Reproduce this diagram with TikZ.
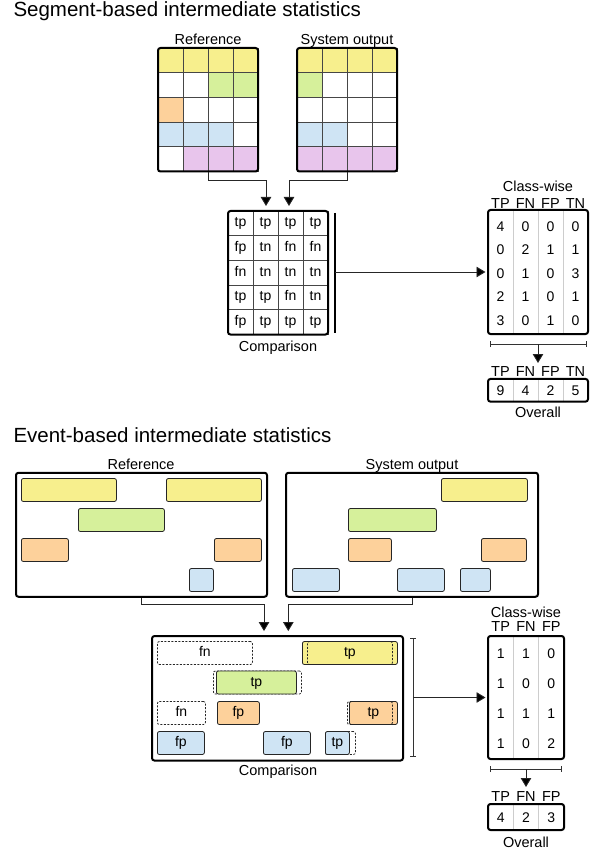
\documentclass[tikz,border=0pt]{standalone}
\usepackage{fontspec}
\setmainfont{Liberation Sans}
\usetikzlibrary{arrows.meta,positioning,calc}
\definecolor{evyellow}{RGB}{247,239,141}
\definecolor{evgreen}{RGB}{214,240,155}
\definecolor{evorange}{RGB}{253,209,155}
\definecolor{evblue}{RGB}{207,228,244}
\definecolor{evpurple}{RGB}{232,197,236}
\definecolor{gridline}{RGB}{70,70,70}
\definecolor{lightline}{RGB}{205,205,205}
\newcommand\titlefont{\fontsize{20.5}{24}\selectfont}
\newcommand\labfont{\fontsize{14.5}{17}\selectfont}
\newcommand\cellfont{\fontsize{14}{16}\selectfont}

\begin{document}
\begin{tikzpicture}[x=1pt,y=-1pt,
  title/.style={anchor=base west,inner sep=0pt,font=\titlefont},
  caption/.style={anchor=base,inner sep=0pt,font=\labfont},
  frame/.style={draw,line width=2pt,rounded corners=2.5pt,inner sep=0pt},
  cell/.style={draw=gridline,line width=0.7pt,minimum width=25pt,minimum height=24.7pt,inner sep=0pt,font=\cellfont,text height=10pt,text depth=3pt},
  num/.style={inner sep=0pt,font=\cellfont,text height=10pt,text depth=0pt},
  evt/.style={draw=black!85,line width=0.8pt,rounded corners=2pt,minimum height=23pt,inner sep=0pt,anchor=west,font=\cellfont,text height=10pt,text depth=3pt},
  miss/.style={evt,dash pattern=on 2pt off 1.5pt},
  link/.style={draw=black!85,line width=0.9pt,-{Triangle[width=10.5pt,length=9pt,fill=black]},shorten >=4pt},
  brace/.style={draw=black!80,line width=0.8pt,{Bar[width=6pt]}-{Bar[width=6pt]}}]
  \useasboundingbox (0,0) rectangle (606,850);

  % Segment-based
  \node[title] (segtitle) at (13.3,16.7) {Segment-based intermediate statistics};
  % Reference grid
  \foreach \r/\row in {0/{evyellow,evyellow,evyellow,evyellow},1/{white,white,evgreen,evgreen},2/{evorange,white,white,white},3/{evblue,evblue,evblue,white},4/{white,evpurple,evpurple,evpurple}}
    \foreach \c [count=\j from 0] in \row
      \node[cell,fill=\c] (sref-\r-\j) at (170.5+25*\j,60.35+24.7*\r) {};
  \node[frame,minimum width=100pt,minimum height=123.5pt] (sref) at (208,109.75) {};
  \node[caption] (sreflbl) at (208,44.3) {Reference};
  % System output grid
  \foreach \r/\row in {0/{evyellow,evyellow,evyellow,evyellow},1/{evgreen,white,white,white},2/{white,white,white,white},3/{evblue,evblue,white,white},4/{evpurple,evpurple,evpurple,evpurple}}
    \foreach \c [count=\j from 0] in \row
      \node[cell,fill=\c] (ssys-\r-\j) at (309.5+25*\j,60.35+24.7*\r) {};
  \node[frame,minimum width=100pt,minimum height=123.5pt] (ssys) at (347,109.75) {};
  \node[caption] (ssyslbl) at (347,44.3) {System output};
  % Comparison grid
  \foreach \r/\row in {0/{tp,tp,tp,tp},1/{fp,tn,fn,fn},2/{fn,tn,tn,tn},3/{tp,tp,fn,tn},4/{fp,tp,tp,tp}}
    \foreach \t [count=\j from 0] in \row
      \node[cell] (scmp-\r-\j) at (240.5+25*\j,223.35+24.7*\r) {\t};
  \node[frame,minimum width=100pt,minimum height=123.5pt] (scmp) at (278,272.75) {};
  \node[caption] (scmplbl) at (278,351.5) {Comparison};
  \draw[link] (sref.south) -- ++(0,8) -| ([xshift=-12pt]scmp.north);
  \draw[link] (ssys.south) -- ++(0,8) -| ([xshift=11pt]scmp.north);
  \draw[line width=1.9pt] (335,213) -- (335,333);
  \coordinate (sbar) at (335,272);
  % Class-wise
  \foreach \x in {513,538,563} \draw[lightline,line width=0.8pt] (\x,211) -- (\x,333);
  \foreach \r/\row in {0/{4,0,0,0},1/{0,2,1,1},2/{0,1,0,3},3/{2,1,0,1},4/{3,0,1,0}}
    \foreach \v [count=\j from 0] in \row
      \node[num] (scls-\r-\j) at (500.5+25*\j,226+23.5*\r) {\v};
  \node[frame,minimum width=100pt,minimum height=124pt] (scls) at (538,272) {};
  \foreach \h [count=\j from 0] in {TP,FN,FP,TN}
    \node[caption] (shead-\j) at (500.5+25*\j,208.3) {\h};
  \node[caption] (sclslbl) at (538,192) {Class-wise};
  \draw[link,shorten >=1.5pt] (sbar) -- (sbar -| scls.west);
  % Overall
  \draw[brace] (490,344) -- (587,344);
  \coordinate (sbrk) at (538,344);
  \coordinate (stot) at (538,367);
  \draw[link] (sbrk) -- (stot);
  \foreach \h [count=\j from 0] in {TP,FN,FP,TN}
    \node[caption] (sthead-\j) at (500.5+25*\j,376.7) {\h};
  \foreach \x in {513,538,563} \draw[lightline,line width=0.8pt] (\x,380) -- (\x,400.5);
  \foreach \v [count=\j from 0] in {9,4,2,5}
    \node[num] (stot-\j) at (500.5+25*\j,390.5) {\v};
  \node[frame,minimum width=100pt,minimum height=22.7pt] (stotal) at (538,390.3) {};
  \node[caption] (stotlbl) at (538,417) {Overall};

  % Event-based
  \node[title] (evtitle) at (13.3,442.7) {Event-based intermediate statistics};
  % Reference
  \node[evt,fill=evyellow,minimum width=95pt] (eref-y1) at (21,490) {};
  \node[evt,fill=evyellow,minimum width=95pt] (eref-y2) at (166,490) {};
  \node[evt,fill=evgreen,minimum width=86pt] (eref-g) at (78,520) {};
  \node[evt,fill=evorange,minimum width=47pt] (eref-o1) at (21,550) {};
  \node[evt,fill=evorange,minimum width=47pt] (eref-o2) at (214,550) {};
  \node[evt,fill=evblue,minimum width=24pt] (eref-b) at (189,580) {};
  \node[frame,minimum width=251pt,minimum height=124pt] (eref) at (141.5,534.75) {};
  \node[caption] (ereflbl) at (141,469) {Reference};
  % System output
  \node[evt,fill=evyellow,minimum width=86pt] (esys-y) at (441,490) {};
  \node[evt,fill=evgreen,minimum width=88pt] (esys-g) at (348,520) {};
  \node[evt,fill=evorange,minimum width=43pt] (esys-o1) at (348,550) {};
  \node[evt,fill=evorange,minimum width=45pt] (esys-o2) at (481,550) {};
  \node[evt,fill=evblue,minimum width=47pt] (esys-b1) at (292,580) {};
  \node[evt,fill=evblue,minimum width=47pt] (esys-b2) at (397,580) {};
  \node[evt,fill=evblue,minimum width=30pt] (esys-b3) at (460,580) {};
  \node[frame,minimum width=252pt,minimum height=124pt] (esys) at (412,534.75) {};
  \node[caption] (esyslbl) at (412,469) {System output};
  % Comparison
  \node[miss,minimum width=95pt] (ecmp-fn1) at (157,653) {fn};
  \node[evt,fill=evyellow,minimum width=95pt] (ecmp-tp1) at (302,653) {tp};
  \node[miss,minimum width=85pt] (ecmp-tp1s) at (307,653) {};
  \node[miss,minimum width=88pt] (ecmp-tp2s) at (213,682.5) {};
  \node[evt,fill=evgreen,minimum width=80pt] (ecmp-tp2) at (216,682.5) {tp};
  \node[miss,minimum width=48pt] (ecmp-fn2) at (157,713) {fn};
  \node[evt,fill=evorange,minimum width=42pt] (ecmp-fp1) at (217,713) {fp};
  \node[evt,fill=evorange,minimum width=48pt] (ecmp-tp3) at (349,713) {tp};
  \node[miss,minimum width=45pt] (ecmp-tp3s) at (347,713) {};
  \node[evt,fill=evblue,minimum width=47pt] (ecmp-fp2) at (157,743) {fp};
  \node[evt,fill=evblue,minimum width=47pt] (ecmp-fp3) at (263,743) {fp};
  \node[miss,minimum width=30pt] (ecmp-tp4s) at (325,743) {};
  \node[evt,fill=evblue,minimum width=24pt] (ecmp-tp4) at (325,743) {tp};
  \node[frame,minimum width=251pt,minimum height=124.5pt] (ecmp) at (277.5,698.3) {};
  \node[caption] (ecmplbl) at (278,775.5) {Comparison};
  \draw[link] (eref.south) -- ++(0,7) -| ([xshift=-13.5pt]ecmp.north);
  \draw[link] (esys.south) -- ++(0,7) -| ([xshift=10.8pt]ecmp.north);
  \draw[brace] (413,638) -- (413,757);
  \coordinate (ebrk) at (413,697.5);
  % Class-wise
  \foreach \x in {513.3,538.7} \draw[lightline,line width=0.8pt] (\x,637) -- (\x,758);
  \foreach \r/\row in {0/{1,1,0},1/{1,0,0},2/{1,1,1},3/{1,0,2}}
    \foreach \v [count=\j from 0] in \row
      \node[num] (ecls-\r-\j) at (500.7+25.3*\j,653+30*\r) {\v};
  \node[frame,minimum width=76pt,minimum height=123pt] (ecls) at (526,697.5) {};
  \foreach \h [count=\j from 0] in {TP,FN,FP}
    \node[caption] (ehead-\j) at (500.7+25.3*\j,631.7) {\h};
  \node[caption] (eclslbl) at (526,617) {Class-wise};
  \draw[link,shorten >=1.5pt] (ebrk) -- (ebrk -| ecls.west);
  % Overall
  \draw[brace] (490,769) -- (562,769);
  \coordinate (ebrk2) at (526,769);
  \coordinate (etot) at (526,791);
  \draw[link] (ebrk2) -- (etot);
  \foreach \h [count=\j from 0] in {TP,FN,FP}
    \node[caption] (ethead-\j) at (500.7+25.3*\j,801.7) {\h};
  \foreach \x in {513.3,538.7} \draw[lightline,line width=0.8pt] (\x,805) -- (\x,829);
  \foreach \v [count=\j from 0] in {4,2,3}
    \node[num] (etot-\j) at (500.7+25.3*\j,817) {\v};
  \node[frame,minimum width=76pt,minimum height=26pt] (etotal) at (526,817) {};
  \node[caption] (etotlbl) at (526,847) {Overall};
\end{tikzpicture}
\end{document}
